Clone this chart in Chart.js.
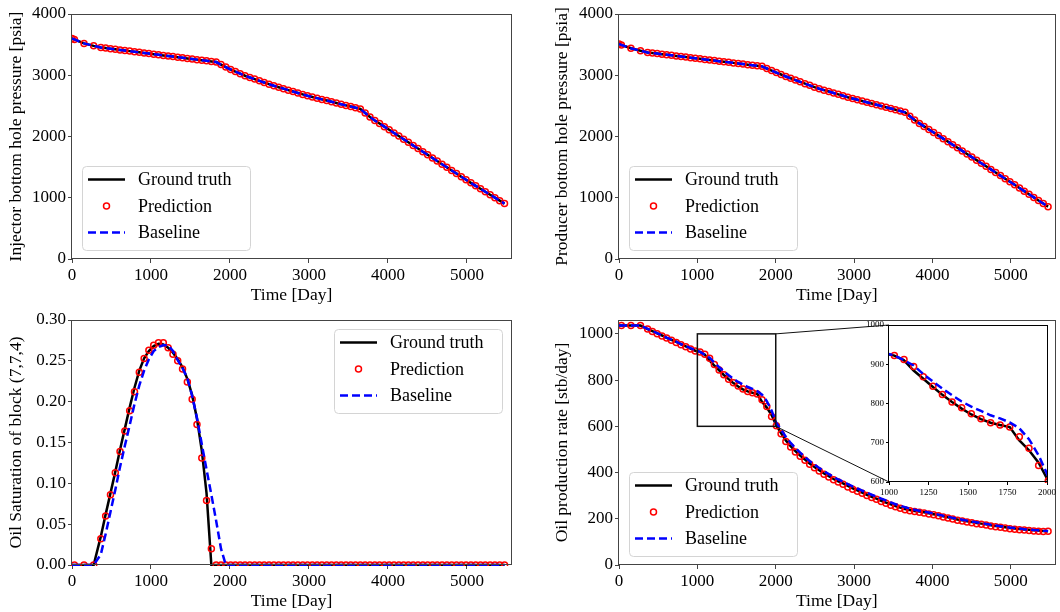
<!DOCTYPE html>
<html>
<head>
<meta charset="utf-8">
<title>Well responses: ground truth vs prediction vs baseline</title>
<script src="https://cdn.jsdelivr.net/npm/chart.js@4.4.1/dist/chart.umd.min.js"></script>
<style>
  html, body { margin: 0; padding: 0; background: #fff; }
  #fig { position: relative; width: 1060px; height: 612px; overflow: hidden; }
  #fig canvas { position: absolute; }
</style>
</head>
<body>
<div id="fig">
  <canvas id="c-inj" width="530" height="306" style="left:0;top:0"></canvas>
  <canvas id="c-prod" width="530" height="306" style="left:530px;top:0"></canvas>
  <canvas id="c-sat" width="530" height="306" style="left:0;top:306px"></canvas>
  <canvas id="c-oil" width="530" height="306" style="left:530px;top:306px"></canvas>
  <canvas id="c-inset" width="208" height="184" style="left:852px;top:316px"></canvas>
</div>
<script>
// Report times (days). Prediction has no value at day 0.
var DAYS = [
  0, 30, 152, 274, 365, 426, 487, 548, 608, 669,
  730, 791, 852, 913, 973, 1034, 1095, 1156, 1217, 1278,
  1338, 1399, 1460, 1521, 1582, 1643, 1703, 1764, 1825, 1886,
  1947, 2008, 2068, 2129, 2190, 2251, 2312, 2373, 2433, 2494,
  2555, 2616, 2677, 2738, 2798, 2859, 2920, 2981, 3042, 3103,
  3163, 3224, 3285, 3346, 3407, 3468, 3528, 3589, 3650, 3711,
  3772, 3833, 3893, 3954, 4015, 4076, 4137, 4198, 4258, 4319,
  4380, 4441, 4502, 4563, 4623, 4684, 4745, 4806, 4867, 4928,
  4988, 5049, 5110, 5171, 5232, 5293, 5353, 5414, 5475
];

// Injector BHP [psia] - truth, prediction and baseline overlap in the picture
var INJ_BHP = [
  3600, 3585, 3520, 3480, 3454, 3444, 3434, 3424, 3414, 3404,
  3394, 3384, 3374, 3364, 3354, 3344, 3334, 3324, 3315, 3305,
  3295, 3285, 3275, 3265, 3255, 3245, 3235, 3225, 3215, 3174,
  3133, 3094, 3060, 3025, 2992, 2964, 2937, 2909, 2881, 2854,
  2828, 2804, 2781, 2757, 2734, 2710, 2687, 2665, 2645, 2626,
  2606, 2587, 2567, 2547, 2528, 2508, 2489, 2469, 2450, 2384,
  2319, 2262, 2212, 2161, 2109, 2058, 2007, 1956, 1906, 1854,
  1803, 1752, 1701, 1650, 1599, 1548, 1497, 1446, 1395, 1344,
  1294, 1243, 1194, 1146, 1097, 1049, 1002, 953, 905
];

// Producer BHP [psia]
var PROD_BHP = [
  3510, 3495, 3440, 3400, 3373, 3363, 3354, 3344, 3335, 3326,
  3316, 3306, 3297, 3287, 3278, 3268, 3259, 3249, 3240, 3230,
  3221, 3211, 3202, 3192, 3183, 3173, 3164, 3154, 3145, 3110,
  3076, 3043, 3012, 2980, 2951, 2921, 2892, 2863, 2835, 2806,
  2780, 2757, 2734, 2710, 2688, 2665, 2641, 2620, 2599, 2579,
  2559, 2539, 2519, 2499, 2478, 2457, 2437, 2416, 2395, 2332,
  2269, 2214, 2165, 2115, 2065, 2015, 1965, 1916, 1866, 1816,
  1765, 1715, 1664, 1614, 1564, 1514, 1463, 1412, 1362, 1311,
  1262, 1211, 1160, 1108, 1057, 1006, 956, 905, 855
];

// Oil saturation of block (7,7,4)
var SAT_TRUE = [
  0, 0, 0, 0, 0.035, 0.062, 0.088, 0.114, 0.141, 0.167,
  0.193, 0.217, 0.238, 0.253, 0.262, 0.268, 0.271, 0.270, 0.266, 0.260,
  0.252, 0.242, 0.228, 0.208, 0.179, 0.140, 0.088, 0, 0, 0,
  0, 0, 0, 0, 0, 0, 0, 0, 0, 0,
  0, 0, 0, 0, 0, 0, 0, 0, 0, 0,
  0, 0, 0, 0, 0, 0, 0, 0, 0, 0,
  0, 0, 0, 0, 0, 0, 0, 0, 0, 0,
  0, 0, 0, 0, 0, 0, 0, 0, 0, 0,
  0, 0, 0, 0, 0, 0, 0, 0, 0
];
var SAT_PRED = [
  null, 0, 0, 0, 0.032, 0.060, 0.086, 0.113, 0.139, 0.164,
  0.189, 0.212, 0.236, 0.253, 0.263, 0.269, 0.272, 0.272, 0.266, 0.258,
  0.250, 0.240, 0.224, 0.203, 0.172, 0.131, 0.079, 0.020, 0, 0,
  0, 0, 0, 0, 0, 0, 0, 0, 0, 0,
  0, 0, 0, 0, 0, 0, 0, 0, 0, 0,
  0, 0, 0, 0, 0, 0, 0, 0, 0, 0,
  0, 0, 0, 0, 0, 0, 0, 0, 0, 0,
  0, 0, 0, 0, 0, 0, 0, 0, 0, 0,
  0, 0, 0, 0, 0, 0, 0, 0, 0
];
var SAT_BASE = [
  0, 0, 0, 0, 0.013, 0.038, 0.065, 0.092, 0.120, 0.146,
  0.171, 0.197, 0.220, 0.238, 0.252, 0.262, 0.267, 0.269, 0.269, 0.262,
  0.251, 0.241, 0.229, 0.207, 0.180, 0.148, 0.117, 0.086, 0.054, 0.020,
  0, 0, 0, 0, 0, 0, 0, 0, 0, 0,
  0, 0, 0, 0, 0, 0, 0, 0, 0, 0,
  0, 0, 0, 0, 0, 0, 0, 0, 0, 0,
  0, 0, 0, 0, 0, 0, 0, 0, 0, 0,
  0, 0, 0, 0, 0, 0, 0, 0, 0, 0,
  0, 0, 0, 0, 0, 0, 0, 0, 0
];

// Oil production rate [stb/day]
var OIL_TRUE = [
  1036, 1036, 1036, 1036, 1021, 1012, 1002, 993, 983, 974,
  965, 955, 946, 936, 927, 922, 910, 884, 863, 842,
  822, 804, 787, 772, 760, 751, 745, 740, 706, 681,
  649, 603, 571, 539, 514, 493, 473, 456, 439, 424,
  410, 396, 384, 372, 362, 353, 342, 332, 323, 313,
  304, 295, 287, 278, 270, 262, 255, 248, 242, 238,
  234, 231, 228, 224, 220, 216, 211, 206, 202, 197,
  193, 189, 186, 182, 179, 176, 172, 169, 166, 163,
  160, 158, 156, 154, 152, 150, 149, 147, 146
];
var OIL_PRED = [
  null, 1036, 1036, 1036, 1021, 1010, 1001, 991, 982, 972,
  963, 953, 944, 934, 926, 922, 912, 894, 868, 844,
  823, 804, 789, 774, 761, 751, 745, 740, 715, 686,
  642, 603, 568, 534, 511, 489, 470, 453, 436, 421,
  407, 393, 381, 369, 359, 349, 338, 328, 319, 310,
  301, 292, 284, 275, 267, 259, 252, 245, 239, 235,
  231, 228, 225, 221, 217, 213, 208, 203, 199, 194,
  190, 186, 183, 179, 176, 173, 169, 166, 163, 160,
  157, 155, 153, 151, 149, 147, 146, 145, 146
];
var OIL_BASE = [
  1036, 1036, 1036, 1036, 1022, 1012, 1003, 994, 984, 975,
  966, 956, 947, 938, 929, 922, 910, 897, 875, 856,
  838, 821, 805, 792, 781, 770, 762, 752, 737, 709,
  668, 614, 585, 555, 528, 506, 486, 467, 450, 434,
  420, 406, 393, 381, 370, 360, 350, 340, 331, 322,
  313, 304, 296, 287, 279, 271, 263, 256, 250, 244,
  239, 235, 231, 227, 223, 218, 213, 209, 204, 200,
  196, 192, 188, 185, 181, 178, 174, 171, 168, 165,
  162, 160, 158, 155, 153, 151, 150, 148, 147
];

// Tick values
var TIME_TICKS = [0, 1000, 2000, 3000, 4000, 5000];
var BHP_TICKS = [0, 1000, 2000, 3000, 4000];
var SAT_TICKS = [0, 0.05, 0.10, 0.15, 0.20, 0.25, 0.30];
var OIL_TICKS = [0, 200, 400, 600, 800, 1000];
var INSET_X_TICKS = [1000, 1250, 1500, 1750, 2000];
var INSET_Y_TICKS = [600, 700, 800, 900, 1000];

// Zoomed window shown in the inset of the oil-rate panel
var INSET_X = [1000, 2000];
var INSET_Y = [600, 1000];

var FONT = "'Liberation Serif', 'Times New Roman', serif";
var insetChart = null;

Chart.defaults.font.family = FONT;
Chart.defaults.color = '#000';

/**
 * Pair day values with series values, skipping missing ones.
 */
function xy(vals) {
    var out = [];
    for (var i = 0; i < DAYS.length; i++) {
        if (vals[i] !== null) {
            out.push({x: DAYS[i], y: vals[i]});
        }
    }
    return out;
}

function seriesSets(truth, pred, base) {
    return [{
        label: 'Ground truth',
        data: xy(truth),
        showLine: true,
        borderColor: '#000',
        borderWidth: 2.5,
        pointRadius: 0,
        order: 3,
        clip: 1
    }, {
        label: 'Prediction',
        data: xy(pred),
        showLine: false,
        borderColor: '#ff0000',
        pointBorderColor: '#ff0000',
        pointBackgroundColor: 'rgba(0,0,0,0)',
        pointRadius: 3,
        pointBorderWidth: 1.5,
        order: 2,
        clip: 1
    }, {
        label: 'Baseline',
        data: xy(base),
        showLine: true,
        borderColor: '#0000ff',
        borderWidth: 2.5,
        borderDash: [8, 4],
        pointRadius: 0,
        order: 1,
        clip: 1
    }];
}

// Axes frame (all four spines), optional white plot background.
var frame = {
    id: 'frame',
    beforeDraw: function(chart, args, opts) {
        if (!opts.fill) { return; }
        var a = chart.chartArea, ctx = chart.ctx;
        ctx.save();
        ctx.fillStyle = '#fff';
        ctx.fillRect(a.left, a.top, a.right - a.left, a.bottom - a.top);
        ctx.restore();
    },
    afterDatasetsDraw: function(chart, args, opts) {
        var a = chart.chartArea, ctx = chart.ctx;
        ctx.save();
        ctx.strokeStyle = opts.color || '#444';
        ctx.lineWidth = 1;
        ctx.strokeRect(Math.round(a.left) - 0.5, Math.round(a.top) + 0.5,
            Math.round(a.right - a.left) + 1, Math.round(a.bottom - a.top) - 1);
        ctx.restore();
    }
};

// Matplotlib-like legend box drawn inside the plot area.
var legendBox = {
    id: 'legendBox',
    afterDraw: function(chart, args, opts) {
        if (!opts.corner) { return; }
        var ctx = chart.ctx, a = chart.chartArea;
        var w = 168, h = 84;
        var x = opts.corner === 'upperright' ? a.right - 9 - w : a.left + 10;
        var y = opts.corner === 'upperright' ? a.top + 9 : a.bottom - 9 - h;
        ctx.save();
        ctx.beginPath();
        ctx.roundRect(Math.round(x) + 0.5, Math.round(y) + 0.5, w, h, 4);
        ctx.fillStyle = 'rgba(255,255,255,0.8)';
        ctx.fill();
        ctx.strokeStyle = '#d4d4d4';
        ctx.lineWidth = 1;
        ctx.stroke();
        chart.data.datasets.forEach(function(ds, i) {
            var cy = y + 13.5 + i * 26.5;
            var x0 = x + 6, x1 = x + 43;
            ctx.beginPath();
            if (ds.showLine) {
                ctx.setLineDash(ds.borderDash || []);
                ctx.strokeStyle = ds.borderColor;
                ctx.lineWidth = ds.borderWidth;
                ctx.moveTo(x0, cy);
                ctx.lineTo(x1, cy);
            } else {
                ctx.setLineDash([]);
                ctx.strokeStyle = ds.pointBorderColor;
                ctx.lineWidth = ds.pointBorderWidth;
                ctx.arc((x0 + x1) / 2, cy, ds.pointRadius, 0, 2 * Math.PI);
            }
            ctx.stroke();
            ctx.setLineDash([]);
            ctx.fillStyle = '#000';
            ctx.font = '18px ' + FONT;
            ctx.textBaseline = 'middle';
            ctx.textAlign = 'left';
            ctx.fillText(ds.label, x + 56, cy + 1);
        });
        ctx.restore();
    }
};

// Rectangle of the zoomed window plus connector lines to the inset.
var zoomMark = {
    id: 'zoomMark',
    afterDatasetsDraw: function(chart, args, opts) {
        if (!opts.on) { return; }
        var ctx = chart.ctx, xs = chart.scales.x, ys = chart.scales.y;
        var l = xs.getPixelForValue(INSET_X[0]), r = xs.getPixelForValue(INSET_X[1]);
        var t = ys.getPixelForValue(INSET_Y[1]), b = ys.getPixelForValue(INSET_Y[0]);
        ctx.save();
        ctx.strokeStyle = '#111';
        ctx.lineWidth = 1.5;
        ctx.strokeRect(l, t, r - l, b - t);
        if (insetChart) {
            var dx = insetChart.canvas.offsetLeft - chart.canvas.offsetLeft;
            var dy = insetChart.canvas.offsetTop - chart.canvas.offsetTop;
            var ia = insetChart.chartArea;
            ctx.lineWidth = 1;
            ctx.beginPath();
            ctx.moveTo(r, t);
            ctx.lineTo(dx + ia.left, dy + ia.top);
            ctx.moveTo(r, b);
            ctx.lineTo(dx + ia.left, dy + ia.bottom);
            ctx.stroke();
        }
        ctx.restore();
    }
};

function plain(v) { return String(v); }

function makePanel(id, o) {
    return new Chart(document.getElementById(id), {
        type: 'scatter',
        data: {datasets: o.datasets},
        options: {
            responsive: false,
            animation: false,
            events: [],
            layout: {padding: {left: o.padLeft, top: o.padTop, right: o.padRight, bottom: 0}},
            plugins: {
                legend: {display: false},
                tooltip: {enabled: false},
                legendBox: {corner: o.legend || null},
                frame: {fill: !!o.fill, color: o.frameColor},
                zoomMark: {on: !!o.zoomMark}
            },
            scales: {
                x: {
                    type: 'linear',
                    min: o.xMin,
                    max: o.xMax,
                    title: {display: !!o.xTitle, text: o.xTitle || '', font: {size: 17.5}, padding: 0},
                    ticks: {autoSkip: false, maxRotation: 0, font: {size: o.tickSize}, padding: o.tickPad,
                        callback: plain},
                    grid: {drawOnChartArea: false, tickLength: o.tickLen, tickColor: o.frameColor || '#444'},
                    border: {display: false},
                    afterBuildTicks: function(s) {
                        s.ticks = o.xTicks.map(function(v) { return {value: v}; });
                    },
                    afterFit: function(s) { s.height = o.xHeight; }
                },
                y: {
                    type: 'linear',
                    min: o.yMin,
                    max: o.yMax,
                    title: {display: !!o.yTitle, text: o.yTitle || '', font: {size: 17.5}, padding: 0},
                    ticks: {autoSkip: false, font: {size: o.tickSize}, padding: o.tickPad,
                        callback: o.yFmt || plain},
                    grid: {drawOnChartArea: false, tickLength: o.tickLen, tickColor: o.frameColor || '#444'},
                    border: {display: false},
                    afterBuildTicks: function(s) {
                        s.ticks = o.yTicks.map(function(v) { return {value: v}; });
                    },
                    afterFit: function(s) { s.width = o.yWidth; }
                }
            }
        },
        plugins: [frame, zoomMark, legendBox]
    });
}

// Shared settings of the four main panels.
function mainPanel(id, left, extra) {
    var o = {
        xMin: 0, xMax: 5557, xTicks: TIME_TICKS, xTitle: 'Time [Day]',
        tickSize: 17, tickPad: 2, tickLen: 4,
        padTop: 14, xHeight: 47
    };
    if (left) {
        o.padLeft = 6; o.yWidth = 66; o.padRight = 19;
    } else {
        o.padLeft = 22; o.yWidth = 67; o.padRight = 3;
    }
    for (var k in extra) { o[k] = extra[k]; }
    return makePanel(id, o);
}

mainPanel('c-inj', true, {
    yMin: 0, yMax: 4000, yTicks: BHP_TICKS,
    yTitle: 'Injector bottom hole pressure [psia]',
    legend: 'lowerleft',
    datasets: seriesSets(INJ_BHP, INJ_BHP, INJ_BHP)
});

mainPanel('c-prod', false, {
    yMin: 0, yMax: 4000, yTicks: BHP_TICKS,
    yTitle: 'Producer bottom hole pressure [psia]',
    legend: 'lowerleft',
    datasets: seriesSets(PROD_BHP, PROD_BHP, PROD_BHP)
});

mainPanel('c-sat', true, {
    yMin: 0, yMax: 0.30, yTicks: SAT_TICKS,
    yFmt: function(v) { return Number(v).toFixed(2); },
    yTitle: 'Oil Saturation of block (7,7,4)',
    legend: 'upperright',
    datasets: seriesSets(SAT_TRUE, SAT_PRED, SAT_BASE)
});

// Inset first, so the oil-rate panel can link its zoom box to it.
insetChart = makePanel('c-inset', {
    xMin: INSET_X[0], xMax: INSET_X[1], xTicks: INSET_X_TICKS,
    yMin: INSET_Y[0], yMax: INSET_Y[1], yTicks: INSET_Y_TICKS,
    tickSize: 9, tickPad: 2, tickLen: 3,
    padLeft: 0, padTop: 9, padRight: 13, yWidth: 37, xHeight: 18,
    fill: true, frameColor: '#000',
    datasets: seriesSets(OIL_TRUE, OIL_PRED, OIL_BASE)
});

mainPanel('c-oil', false, {
    yMin: 0, yMax: 1060, yTicks: OIL_TICKS,
    yTitle: 'Oil production rate [stb/day]',
    legend: 'lowerleft',
    zoomMark: true,
    datasets: seriesSets(OIL_TRUE, OIL_PRED, OIL_BASE)
});
</script>
</body>
</html>
